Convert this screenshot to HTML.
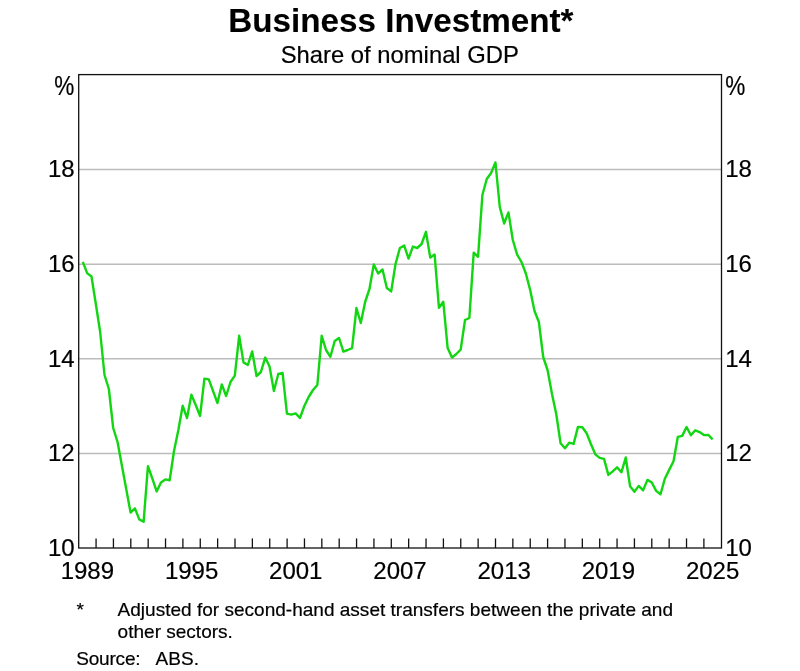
<!DOCTYPE html>
<html lang="en"><head><meta charset="utf-8"><title>Business Investment</title>
<style>
html,body{margin:0;padding:0;background:#fff;}
body{width:800px;height:671px;overflow:hidden;}
svg{display:block;will-change:transform;transform:translateZ(0);}
text{font-family:"Liberation Sans",Arial,Helvetica,sans-serif;fill:#000;stroke:#000;stroke-width:0.2px;stroke-linejoin:round;}
.t{font-size:33.22px;font-weight:bold;text-anchor:middle;stroke-width:0.1px;}
.s{font-size:23.8px;text-anchor:middle;}
.a{font-size:24.0px;}
.f{font-size:19.05px;}
</style></head><body>
<svg width="800" height="671" viewBox="0 0 800 671">
<rect x="0" y="0" width="800" height="671" fill="#ffffff"/>
<text class="t" x="400.9" y="32.4">Business Investment*</text>
<text class="s" x="399.8" y="62.6">Share of nominal GDP</text>
<g stroke="#bcbcbc" stroke-width="1.5" fill="none">
<line x1="78.70" y1="453.52" x2="721.50" y2="453.52"/>
<line x1="78.70" y1="358.84" x2="721.50" y2="358.84"/>
<line x1="78.70" y1="264.16" x2="721.50" y2="264.16"/>
<line x1="78.70" y1="169.48" x2="721.50" y2="169.48"/>
</g>
<polyline points="82.80,261.90 87.14,273.10 91.49,276.50 95.83,304.00 100.17,332.00 104.52,375.00 108.86,389.00 113.20,428.00 117.55,442.00 121.89,465.50 126.23,489.00 130.58,512.60 134.92,508.40 139.27,519.40 143.61,521.80 147.95,466.20 152.30,478.40 156.64,491.40 160.98,482.40 165.33,479.40 169.67,480.20 174.01,451.00 178.36,430.00 182.70,405.80 187.04,418.00 191.39,394.80 195.73,405.00 200.07,416.00 204.42,378.60 208.76,379.40 213.10,391.20 217.45,403.00 221.79,384.40 226.14,396.00 230.48,382.00 234.82,375.60 239.17,335.80 243.51,362.40 247.85,365.00 252.20,351.40 256.54,376.00 260.88,372.00 265.23,357.60 269.57,366.60 273.91,391.00 278.26,374.00 282.60,373.00 286.94,413.60 291.29,414.60 295.63,413.40 299.97,418.00 304.32,406.00 308.66,397.00 313.01,390.00 317.35,385.00 321.69,335.80 326.04,350.00 330.38,356.80 334.72,341.00 339.07,338.00 343.41,351.60 347.75,350.00 352.10,348.20 356.44,308.00 360.78,323.00 365.13,302.00 369.47,289.00 373.81,264.40 378.16,273.60 382.50,269.40 386.84,288.00 391.19,291.40 395.53,264.00 399.88,248.00 404.22,245.60 408.56,258.60 412.91,246.60 417.25,248.00 421.59,244.00 425.94,231.80 430.28,257.60 434.62,254.60 438.97,307.80 443.31,301.80 447.65,348.00 452.00,357.60 456.34,354.00 460.68,349.60 465.03,320.00 469.37,318.00 473.71,252.70 478.06,256.80 482.40,195.00 486.75,179.00 491.09,173.00 495.43,162.40 499.78,207.00 504.12,223.50 508.46,212.40 512.81,240.00 517.15,254.60 521.49,262.00 525.84,273.50 530.18,290.00 534.52,311.00 538.87,322.00 543.21,357.00 547.55,370.00 551.90,393.50 556.24,414.00 560.58,443.30 564.93,448.30 569.27,442.70 573.62,443.90 577.96,426.90 582.30,427.30 586.65,433.30 590.99,444.30 595.33,454.30 599.68,457.90 604.02,458.90 608.36,474.90 612.71,471.30 617.05,467.30 621.39,472.30 625.74,457.50 630.08,486.30 634.42,491.70 638.77,485.90 643.11,490.30 647.45,479.90 651.80,482.50 656.14,490.90 660.49,494.30 664.83,478.80 669.17,469.90 673.52,461.30 677.86,436.80 682.20,435.90 686.55,427.00 690.89,435.30 695.23,430.30 699.58,432.10 703.92,435.10 708.26,434.90 712.61,439.30" fill="none" stroke="#12d612" stroke-width="2.4" stroke-linejoin="round" stroke-linecap="butt"/>
<g stroke="#111" stroke-width="1.3" fill="none">
<line x1="96.07" y1="548.00" x2="96.07" y2="538.40"/>
<line x1="113.43" y1="548.00" x2="113.43" y2="538.40"/>
<line x1="130.80" y1="548.00" x2="130.80" y2="538.40"/>
<line x1="148.17" y1="548.00" x2="148.17" y2="538.40"/>
<line x1="165.53" y1="548.00" x2="165.53" y2="538.40"/>
<line x1="182.90" y1="548.00" x2="182.90" y2="538.40"/>
<line x1="200.27" y1="548.00" x2="200.27" y2="538.40"/>
<line x1="217.63" y1="548.00" x2="217.63" y2="538.40"/>
<line x1="235.00" y1="548.00" x2="235.00" y2="538.40"/>
<line x1="252.37" y1="548.00" x2="252.37" y2="538.40"/>
<line x1="269.73" y1="548.00" x2="269.73" y2="538.40"/>
<line x1="287.10" y1="548.00" x2="287.10" y2="538.40"/>
<line x1="304.46" y1="548.00" x2="304.46" y2="538.40"/>
<line x1="321.83" y1="548.00" x2="321.83" y2="538.40"/>
<line x1="339.20" y1="548.00" x2="339.20" y2="538.40"/>
<line x1="356.56" y1="548.00" x2="356.56" y2="538.40"/>
<line x1="373.93" y1="548.00" x2="373.93" y2="538.40"/>
<line x1="391.30" y1="548.00" x2="391.30" y2="538.40"/>
<line x1="408.66" y1="548.00" x2="408.66" y2="538.40"/>
<line x1="426.03" y1="548.00" x2="426.03" y2="538.40"/>
<line x1="443.40" y1="548.00" x2="443.40" y2="538.40"/>
<line x1="460.76" y1="548.00" x2="460.76" y2="538.40"/>
<line x1="478.13" y1="548.00" x2="478.13" y2="538.40"/>
<line x1="495.50" y1="548.00" x2="495.50" y2="538.40"/>
<line x1="512.86" y1="548.00" x2="512.86" y2="538.40"/>
<line x1="530.23" y1="548.00" x2="530.23" y2="538.40"/>
<line x1="547.60" y1="548.00" x2="547.60" y2="538.40"/>
<line x1="564.96" y1="548.00" x2="564.96" y2="538.40"/>
<line x1="582.33" y1="548.00" x2="582.33" y2="538.40"/>
<line x1="599.70" y1="548.00" x2="599.70" y2="538.40"/>
<line x1="617.06" y1="548.00" x2="617.06" y2="538.40"/>
<line x1="634.43" y1="548.00" x2="634.43" y2="538.40"/>
<line x1="651.79" y1="548.00" x2="651.79" y2="538.40"/>
<line x1="669.16" y1="548.00" x2="669.16" y2="538.40"/>
<line x1="686.53" y1="548.00" x2="686.53" y2="538.40"/>
<line x1="703.89" y1="548.00" x2="703.89" y2="538.40"/>
<rect x="78.70" y="74.60" width="642.80" height="473.40"/>
</g>
<g class="a">
<text x="74.7" y="556.00" text-anchor="end">10</text>
<text x="725.2" y="556.00" text-anchor="start">10</text>
<text x="74.7" y="461.32" text-anchor="end">12</text>
<text x="725.2" y="461.32" text-anchor="start">12</text>
<text x="74.7" y="366.64" text-anchor="end">14</text>
<text x="725.2" y="366.64" text-anchor="start">14</text>
<text x="74.7" y="271.96" text-anchor="end">16</text>
<text x="725.2" y="271.96" text-anchor="start">16</text>
<text x="74.7" y="177.28" text-anchor="end">18</text>
<text x="725.2" y="177.28" text-anchor="start">18</text>
<text transform="translate(74.3,94.5) scale(0.94,1.14)" text-anchor="end">%</text>
<text transform="translate(725.3,94.5) scale(0.94,1.14)" text-anchor="start">%</text>
<text x="87.38" y="578.8" text-anchor="middle">1989</text>
<text x="191.58" y="578.8" text-anchor="middle">1995</text>
<text x="295.78" y="578.8" text-anchor="middle">2001</text>
<text x="399.98" y="578.8" text-anchor="middle">2007</text>
<text x="504.18" y="578.8" text-anchor="middle">2013</text>
<text x="608.38" y="578.8" text-anchor="middle">2019</text>
<text x="712.58" y="578.8" text-anchor="middle">2025</text>
</g>
<g class="f">
<text x="76.6" y="615.6">*</text>
<text x="117.6" y="615.6">Adjusted for second-hand asset transfers between the private and</text>
<text x="117.6" y="637.6">other sectors.</text>
<text x="76.2" y="665.2" letter-spacing="-0.2">Source:</text>
<text x="155.6" y="665.2">ABS.</text>
</g>
</svg>
</body></html>
